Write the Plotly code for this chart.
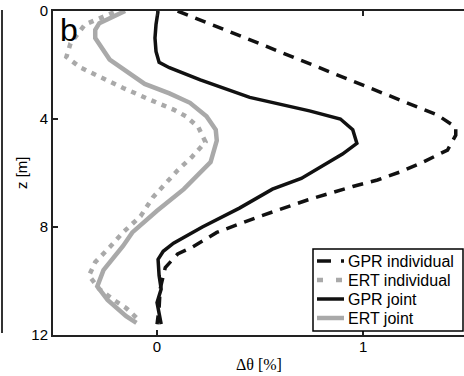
import plotly.graph_objects as go

# ---- data (depth z in m, change in water content in %) ----
gpr_ind_z = [0.0, 0.5, 1.0, 1.8, 2.5, 3.2, 3.85, 4.3, 4.6, 5.15, 5.6, 5.96, 6.26, 6.5, 7.0, 7.6, 8.2, 8.75, 9.0, 9.5, 10.3, 11.0, 11.6]
gpr_ind_x = [0.10, 0.27, 0.43, 0.69, 0.92, 1.14, 1.36, 1.45, 1.45, 1.41, 1.29, 1.18, 1.07, 0.95, 0.73, 0.50, 0.29, 0.17, 0.10, 0.04, 0.015, 0.01, 0.0]

ert_ind_z = [0.05, 0.5, 1.2, 1.7, 2.1, 2.4, 2.85, 3.3, 3.65, 3.9, 4.3, 4.85, 5.4, 5.9, 6.6, 6.9, 7.6, 8.2, 8.75, 9.3, 9.8, 10.3, 10.7, 11.0, 11.5]
ert_ind_x = [-0.21, -0.35, -0.42, -0.44, -0.37, -0.29, -0.165, -0.03, 0.08, 0.14, 0.20, 0.235, 0.17, 0.10, 0.015, -0.02, -0.08, -0.165, -0.23, -0.30, -0.33, -0.28, -0.21, -0.15, -0.08]

gpr_joint_z = [0.0, 0.5, 1.0, 1.5, 1.9, 2.1, 2.55, 3.2, 3.7, 4.0, 4.4, 4.9, 5.3, 5.8, 6.2, 6.6, 7.3, 8.0, 8.6, 8.9, 9.2, 9.8, 10.3, 10.8, 11.2, 11.6]
gpr_joint_x = [0.005, -0.005, -0.01, -0.005, 0.01, 0.06, 0.21, 0.45, 0.74, 0.89, 0.95, 0.97, 0.90, 0.79, 0.70, 0.56, 0.40, 0.22, 0.08, 0.03, 0.005, 0.01, 0.02, 0.0, 0.01, 0.02]

ert_joint_z = [0.0, 0.45, 0.7, 1.0, 1.8, 2.7, 3.05, 3.4, 3.9, 4.4, 4.8, 5.6, 6.6, 7.4, 8.2, 8.7, 9.6, 10.2, 10.7, 11.3, 11.55]
ert_joint_x = [-0.155, -0.28, -0.30, -0.30, -0.23, -0.06, 0.06, 0.16, 0.24, 0.285, 0.29, 0.26, 0.13, 0.0, -0.12, -0.165, -0.26, -0.29, -0.24, -0.15, -0.10]

x_ticks = [0, 1]
z_ticks = [0, 4, 8, 12]
legend_names = ["GPR individual", "ERT individual", "GPR joint", "ERT joint"]

BLACK = "#111111"
GRAY = "#a9a9a9"
AX = "#222222"
SANS = "Liberation Sans, Arial, sans-serif"
SERIF = "Liberation Serif, Times New Roman, serif"

styles = [
    dict(color=BLACK, width=3.5, dash="11px,8px"),
    dict(color=GRAY, width=4.5, dash="5px,6px"),
    dict(color=BLACK, width=3.5, dash="solid"),
    dict(color=GRAY, width=4.5, dash="solid"),
]
series = [(gpr_ind_x, gpr_ind_z), (ert_ind_x, ert_ind_z), (gpr_joint_x, gpr_joint_z), (ert_joint_x, ert_joint_z)]

fig = go.Figure()
for (xs, zs), name, st in zip(series, legend_names, styles):
    fig.add_trace(go.Scatter(x=xs, y=zs, mode="lines", name=name, line=st, showlegend=False))

# ---- layout geometry (pixels) ----
W, H = 464, 376
ML, MR, MT, MB = 53, 0, 11, 41
PW, PH = W - ML - MR, H - MT - MB


def px(xp):
    return (xp - ML) / PW


def py(yp):
    return (H - MB - yp) / PH


annotations = [
    dict(text="b", xref="paper", yref="paper", x=0.012, y=0.941, xanchor="left", yanchor="middle",
         showarrow=False, font=dict(family=SANS, size=32, color="black")),
    dict(text="z [m]", xref="paper", yref="paper", x=px(21), y=0.5, xanchor="center", yanchor="middle",
         textangle=-90, showarrow=False, font=dict(family=SANS, size=15, color="black")),
    dict(text="Δθ [%]", xref="paper", yref="paper", x=0.5, y=py(364), xanchor="center", yanchor="middle",
         showarrow=False, font=dict(family=SERIF, size=16, color="black")),
]
shapes = [
    dict(type="line", xref="paper", yref="paper", x0=px(2), x1=px(2), y0=py(333), y1=py(10),
         line=dict(color="#333333", width=2)),
    # legend box
    dict(type="rect", xref="paper", yref="paper", x0=px(313), x1=px(463), y0=py(331), y1=py(249),
         line=dict(color="black", width=1.5), fillcolor="white", layer="above"),
]
sample_dash = ["14px,10px", "6px,13px", "solid", "solid"]
for i, (name, st) in enumerate(zip(legend_names, styles)):
    yc = 261 + i * 19
    shapes.append(dict(type="line", xref="paper", yref="paper", x0=px(317), x1=px(344), y0=py(yc), y1=py(yc),
                       line=dict(color=st["color"], width=st["width"], dash=sample_dash[i]), layer="above"))
    annotations.append(dict(text=name, xref="paper", yref="paper", x=px(346), y=py(yc), xanchor="left",
                            yanchor="middle", showarrow=False,
                            font=dict(family=SANS, size=16, color="black")))

fig.update_layout(
    width=W, height=H,
    margin=dict(l=ML, r=MR, t=MT, b=MB),
    paper_bgcolor="white", plot_bgcolor="white",
    font=dict(family=SANS, size=15, color="black"),
    showlegend=False,
    xaxis=dict(range=[-0.505, 1.49], tickvals=x_ticks, ticktext=[str(v) for v in x_ticks],
               ticks="inside", ticklen=5, tickwidth=1.5, tickcolor=AX,
               showline=True, linewidth=2, linecolor=AX, mirror="ticks",
               showgrid=False, zeroline=False, ticklabelstandoff=-3,
               tickfont=dict(family=SANS, size=15, color="black")),
    yaxis=dict(range=[12, 0], tickvals=z_ticks, ticktext=[str(v) for v in z_ticks],
               ticks="inside", ticklen=5, tickwidth=1.5, tickcolor=AX,
               showline=True, linewidth=2, linecolor=AX, mirror=False,
               showgrid=False, zeroline=False,
               tickfont=dict(family=SANS, size=15, color="black")),
    annotations=annotations,
    shapes=shapes,
)

fig.write_html("out.html")
